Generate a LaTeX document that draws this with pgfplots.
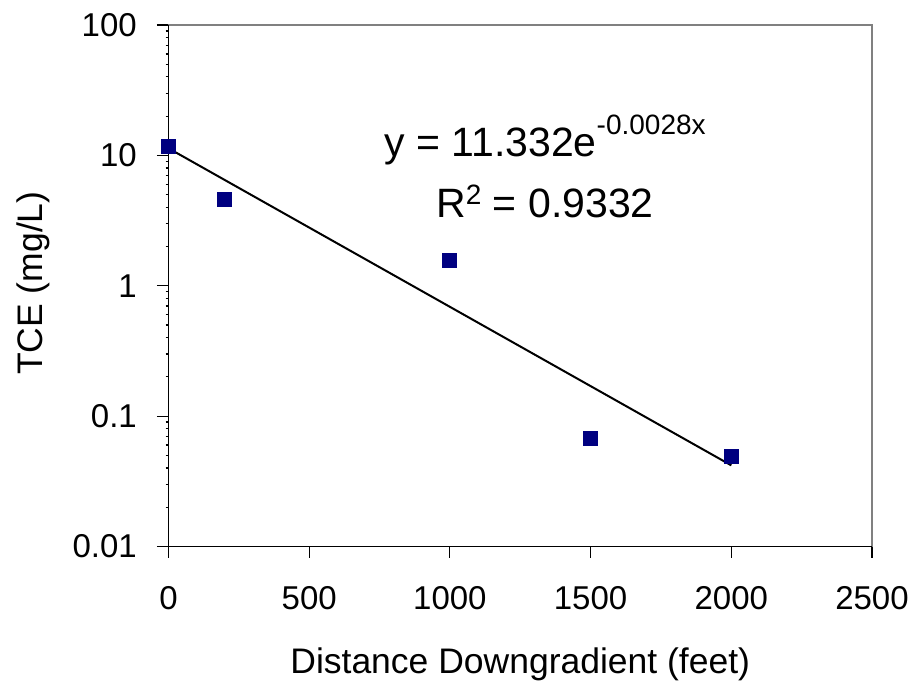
\documentclass[border=0pt]{standalone}
\usepackage{pgfplots}
\pgfplotsset{compat=1.18}
\usepackage{fontspec}
\setmainfont{Liberation Sans}
\definecolor{navy}{RGB}{0,0,128}
\definecolor{bordergray}{RGB}{128,128,128}
\begin{document}
\begin{tikzpicture}
\useasboundingbox (-168.5pt,-140.5pt) rectangle (750.5pt,546.5pt);
\begin{axis}[
  at={(0pt,0pt)}, anchor=south west,
  scale only axis, width=703.5pt, height=521.5pt,
  ymode=log,
  xmin=0, xmax=2500, ymin=0.01, ymax=100,
  xtick={0,500,1000,1500,2000,2500},
  xticklabels={0,500,1000,1500,2000,2500},
  ytick={0.01,0.1,1,10,100},
  yticklabels={0.01,0.1,1,10,100},
  minor tick num=0,
  /pgf/number format/assume math mode=true,
  tick label style={font=\fontsize{33}{40}\selectfont, inner sep=0pt},
  label style={font=\fontsize{35.5}{42}\selectfont, inner sep=0pt},
  xlabel={Distance Downgradient (feet)},
  ylabel={TCE (mg/L)},
  xlabel style={at={(rel axis cs:0.5,0)}, anchor=base, yshift=-126.5pt},
  ylabel style={at={(rel axis cs:0,0.505)}, anchor=base, yshift=125.5pt},
  xticklabel style={anchor=north, yshift=-28pt},
  yticklabel style={anchor=east, xshift=-20pt},
  tick align=outside, major tick length=11.5pt,
  xtick pos=bottom, ytick pos=left,
  tick style={black, line width=1.2pt},
  axis line style={bordergray, line width=1.5pt},
  clip=false,
]
\addplot[only marks, mark=square*, mark size=7pt, mark options={fill=navy, draw=navy, line width=0pt}, color=navy]
  coordinates {(0,11.8) (200,4.6) (1000,1.57) (1500,0.0675) (2000,0.049)};
\addplot[black, line width=2pt, no marks]
  coordinates {(0,11.332) (2000,0.04191)};
\draw[black, line width=1.5pt] (rel axis cs:0,1) -- (rel axis cs:0,0) -- (rel axis cs:1,0);
\node[anchor=base, font=\fontsize{41}{49}\selectfont, inner sep=0pt] at (axis cs:1338,9.72)
  {y = 11.332e\raisebox{22pt}{\fontsize{28}{33}\selectfont -0.0028x}};
\node[anchor=base, font=\fontsize{41}{49}\selectfont, inner sep=0pt] at (axis cs:1338,3.31)
  {R\raisebox{13pt}{\fontsize{28}{33}\selectfont 2} = 0.9332};
\end{axis}
\end{tikzpicture}
\end{document}
